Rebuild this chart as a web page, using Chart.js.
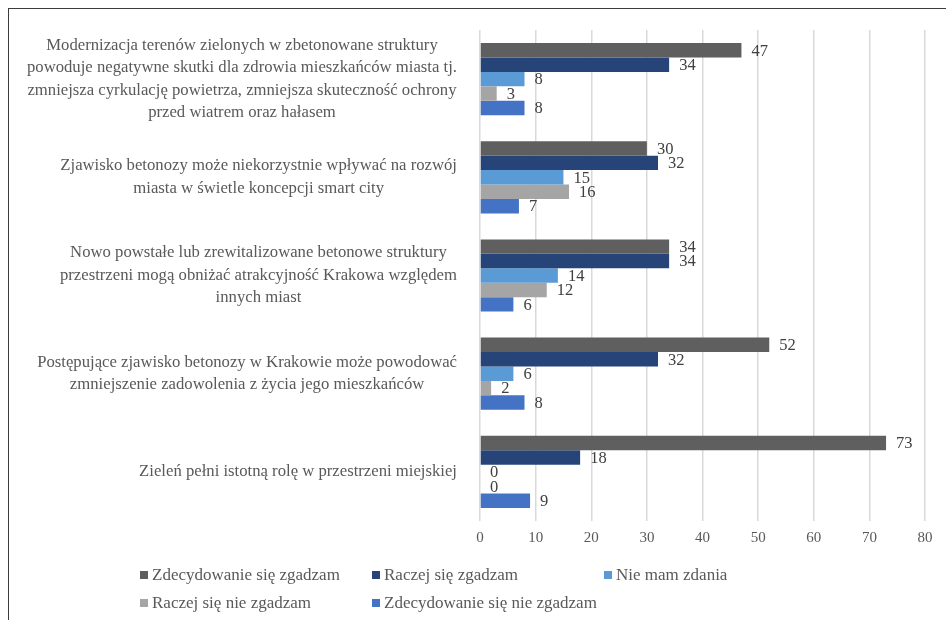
<!DOCTYPE html>
<html lang="pl">
<head>
<meta charset="utf-8">
<script src="https://cdn.jsdelivr.net/npm/chart.js@4/dist/chart.umd.min.js"></script>
<style>
  html, body { margin: 0; padding: 0; background: #fff; }
  body { width: 946px; height: 620px; position: relative; overflow: hidden; }
  #frame { position: absolute; left: 8px; top: 8px; right: -4px; bottom: -4px;
           border-top: 1.6px solid #3c3c3c; border-left: 1.6px solid #3c3c3c; }
  #wrap { position: absolute; left: 0; top: 0; width: 946px; height: 620px; }
  #legend { position: absolute; left: 140px; top: 565px;
            display: grid; grid-template-columns: 232px 232px 232px; row-gap: 8px;
            font-family: 'Liberation Serif', 'Times New Roman', serif; font-size: 17px; color: #595959; }
  #legend .item { display: flex; align-items: center; height: 20px; white-space: nowrap; }
  #legend .sw { width: 8px; height: 8px; margin-right: 4px; flex: none; }
</style>
</head>
<body>
<div id="frame"></div>
<div id="wrap"><canvas id="c" width="946" height="620"></canvas></div>
<div id="legend"></div>
<script>
// Statements (one entry per category, pre-wrapped into lines)
const categories = [
  ['Modernizacja terenów zielonych w zbetonowane struktury',
   'powoduje negatywne skutki dla zdrowia mieszkańców miasta tj.',
   'zmniejsza cyrkulację powietrza, zmniejsza skuteczność ochrony',
   'przed wiatrem oraz hałasem'],
  ['Zjawisko betonozy może niekorzystnie wpływać na rozwój',
   'miasta w świetle koncepcji smart city'],
  ['Nowo powstałe lub zrewitalizowane betonowe struktury',
   'przestrzeni mogą obniżać atrakcyjność Krakowa względem',
   'innych miast'],
  ['Postępujące zjawisko betonozy w Krakowie może powodować',
   'zmniejszenie zadowolenia z życia jego mieszkańców'],
  ['Zieleń pełni istotną rolę w przestrzeni miejskiej']
];

const seriesNames = [
  'Zdecydowanie się zgadzam',
  'Raczej się zgadzam',
  'Nie mam zdania',
  'Raczej się nie zgadzam',
  'Zdecydowanie się nie zgadzam'
];

const strongAgree    = [47, 30, 34, 52, 73];
const ratherAgree    = [34, 32, 34, 32, 18];
const noOpinion      = [8, 15, 14, 6, 0];
const ratherDisagree = [3, 16, 12, 2, 0];
const strongDisagree = [8, 7, 6, 8, 9];

const xTicks = [0, 10, 20, 30, 40, 50, 60, 70, 80];

const seriesColors = ['#5f5f5f', '#264478', '#5b9bd5', '#a5a5a5', '#4472c4'];
const seriesValues = [strongAgree, ratherAgree, noOpinion, ratherDisagree, strongDisagree];

const SERIF = "'Liberation Serif', 'Times New Roman', serif";

// Multi-line category labels, each line centred within its block,
// block right-aligned next to the plot area
const categoryLabels = {
  id: 'categoryLabels',
  afterDraw(chart) {
    const ctx = chart.ctx;
    const y = chart.scales.y;
    const rightEdge = chart.chartArea.left - 23;
    const lh = 22.5;
    ctx.save();
    ctx.font = '16.7px ' + SERIF;
    ctx.fillStyle = '#595959';
    ctx.textAlign = 'center';
    ctx.textBaseline = 'middle';
    chart.data.labels.forEach((lines, i) => {
      const maxW = Math.max(...lines.map(l => ctx.measureText(l).width));
      const cx = rightEdge - maxW / 2;
      const cy = y.getPixelForValue(i);
      const y0 = cy - (lines.length - 1) * lh / 2;
      lines.forEach((l, k) => ctx.fillText(l, cx, y0 + k * lh));
    });
    ctx.restore();
  }
};

// Value labels just past the end of each bar
const valueLabels = {
  id: 'valueLabels',
  afterDatasetsDraw(chart) {
    const ctx = chart.ctx;
    ctx.save();
    ctx.font = '16.5px ' + SERIF;
    ctx.fillStyle = '#404040';
    ctx.textAlign = 'left';
    ctx.textBaseline = 'middle';
    chart.data.datasets.forEach((ds, i) => {
      const meta = chart.getDatasetMeta(i);
      meta.data.forEach((el, j) => {
        ctx.fillText(String(ds.data[j]), el.x + 10, el.y + 1);
      });
    });
    ctx.restore();
  }
};

const chart = new Chart(document.getElementById('c'), {
  type: 'bar',
  data: {
    labels: categories,
    datasets: seriesNames.map((name, i) => ({
      label: name,
      data: seriesValues[i],
      backgroundColor: seriesColors[i],
      borderWidth: 0,
      categoryPercentage: 0.735,
      barPercentage: 1.0
    }))
  },
  options: {
    indexAxis: 'y',
    responsive: false,
    animation: false,
    layout: { padding: { left: 480, right: 21, top: 30, bottom: 65 } },
    plugins: {
      legend: { display: false },
      tooltip: { enabled: false }
    },
    scales: {
      x: {
        min: xTicks[0],
        max: xTicks[xTicks.length - 1],
        afterBuildTicks(scale) { scale.ticks = xTicks.map(v => ({ value: v })); },
        ticks: { font: { family: SERIF, size: 15 }, color: '#595959', padding: 8 },
        grid: { color: '#d9d9d9', lineWidth: 1.5, drawTicks: false },
        border: { display: false }
      },
      y: {
        display: false
      }
    }
  },
  plugins: [categoryLabels, valueLabels]
});

// Legend laid out in a grid from the chart's own datasets
const legendEl = document.getElementById('legend');
chart.data.datasets.forEach(ds => {
  const item = document.createElement('div');
  item.className = 'item';
  const sw = document.createElement('span');
  sw.className = 'sw';
  sw.style.background = ds.backgroundColor;
  const txt = document.createElement('span');
  txt.textContent = ds.label;
  item.appendChild(sw);
  item.appendChild(txt);
  legendEl.appendChild(item);
});
</script>
</body>
</html>
